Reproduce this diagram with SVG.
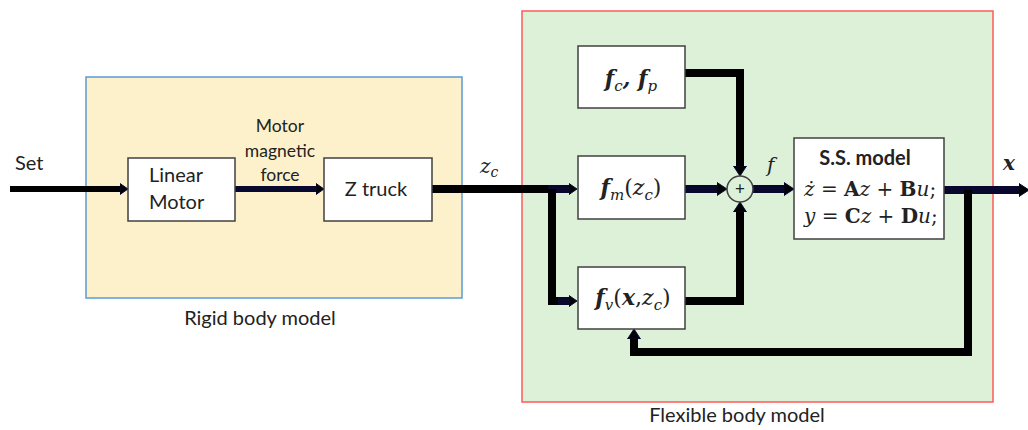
<svg xmlns="http://www.w3.org/2000/svg" width="1028" height="430" viewBox="0 0 1028 430">
<style>
.lbl{font-family:Lato,"Liberation Sans",sans-serif;fill:#222;}
.math{font-family:"DejaVu Serif","Liberation Serif",serif;fill:#222;}
.blk{fill:#fff;stroke:#404040;stroke-width:1.5;}
.wire{fill:none;stroke:#000;stroke-width:8;stroke-linejoin:miter;}
.wire6{fill:none;stroke:#000;stroke-width:6;}
.navy{stroke:#08082e;}
</style>
<defs>
<marker id="ah" viewBox="0 -8 12 16" markerWidth="12" markerHeight="16" refX="0" refY="0" orient="auto" markerUnits="userSpaceOnUse">
<path d="M0,-6.5 L10,0 L0,6.5 Z" fill="#000" stroke="#0a0a3a" stroke-width="1"/>
</marker>
<marker id="ahs" viewBox="0 -8 12 16" markerWidth="12" markerHeight="16" refX="0" refY="0" orient="auto" markerUnits="userSpaceOnUse">
<path d="M0,-5.5 L8,0 L0,5.5 Z" fill="#000" stroke="#0a0a3a" stroke-width="1"/>
</marker>
</defs>
<rect width="1028" height="430" fill="#fff"/>
<g id="rigid-group">
<rect x="86" y="77" width="376" height="221" fill="#fdf1cb" stroke="#5b9bd5" stroke-width="1.5"/>
<text class="lbl" x="260" y="325" font-size="20" text-anchor="middle">Rigid body model</text>
</g>
<g id="flex-group">
<rect x="522" y="11" width="471" height="391" fill="#ddf0d8" stroke="#ff5a5a" stroke-width="1.5"/>
<text class="lbl" x="737" y="422" font-size="20" text-anchor="middle">Flexible body model</text>
</g>
<g id="connectors">
<path class="wire6" d="M10,189 H120" marker-end="url(#ahs)"/>
<path class="wire6 navy" d="M235,189 H316" marker-end="url(#ahs)"/>
<path class="wire" d="M432,189 H548"/>
<path class="wire navy" d="M548,189 H569" stroke-width="6" marker-end="url(#ahs)"/>
<path class="wire" d="M552,189 V301 H560"/>
<path class="wire navy" d="M558,301 H569" stroke-width="6" marker-end="url(#ahs)"/>
<path class="wire" d="M685,73 H740 V166" marker-end="url(#ah)"/>
<path class="wire navy" d="M685,189 H717" marker-end="url(#ah)"/>
<path class="wire" d="M685,301 H740 V212" marker-end="url(#ah)"/>
<path class="wire navy" d="M753,189 H784" marker-end="url(#ah)"/>
<path class="wire navy" d="M944,190 H1019" marker-end="url(#ah)"/>
<path class="wire" d="M968,190 V352 H634 V339" marker-end="url(#ah)"/>
<circle cx="740" cy="189" r="13" fill="#ddf0d8" stroke="#404040" stroke-width="1.5"/>
<text class="lbl" x="740" y="195" font-size="17" text-anchor="middle">+</text>
</g>
<g id="set-label"><text class="lbl" x="15" y="170" font-size="20">Set</text></g>
<g id="linear-motor">
<rect class="blk" x="128" y="158" width="107" height="63"/>
<text class="lbl" x="149" y="182" font-size="20">Linear</text>
<text class="lbl" x="149" y="209" font-size="20">Motor</text>
</g>
<g id="force-label">
<text class="lbl" x="280" y="132" font-size="17.5" text-anchor="middle">Motor</text>
<text class="lbl" x="280" y="157" font-size="17.5" text-anchor="middle">magnetic</text>
<text class="lbl" x="280" y="181" font-size="17.5" text-anchor="middle">force</text>
</g>
<g id="z-truck">
<rect class="blk" x="324" y="158" width="108" height="63"/>
<text class="lbl" x="376" y="196" font-size="20" text-anchor="middle">Z truck</text>
</g>
<g id="zc-label"><text class="math" x="480" y="173" font-size="20" font-style="italic">z<tspan font-size="14" dy="4">c</tspan></text></g>
<g id="fcfp">
<rect class="blk" x="578" y="46" width="107" height="62"/>
<text class="math" x="631" y="86" font-size="22" font-style="italic" font-weight="bold" text-anchor="middle">f<tspan font-size="15" dy="5" font-weight="normal">c</tspan><tspan dy="-5">, f</tspan><tspan font-size="15" dy="5" font-weight="normal">p</tspan></text>
</g>
<g id="fm">
<rect class="blk" x="578" y="156" width="107" height="63"/>
<text class="math" x="631" y="195" font-size="22" text-anchor="middle"><tspan font-style="italic" font-weight="bold">f</tspan><tspan font-size="15" dy="5" font-style="italic">m</tspan><tspan dy="-5">(</tspan><tspan font-style="italic">z</tspan><tspan font-size="15" dy="5" font-style="italic">c</tspan><tspan dy="-5">)</tspan></text>
</g>
<g id="fv">
<rect class="blk" x="578" y="267" width="107" height="62"/>
<text class="math" x="633" y="305" font-size="22" text-anchor="middle"><tspan font-style="italic" font-weight="bold">f</tspan><tspan font-size="15" dy="5" font-style="italic">v</tspan><tspan dy="-5">(</tspan><tspan font-style="italic" font-weight="bold">x</tspan><tspan>,</tspan><tspan font-style="italic">z</tspan><tspan font-size="15" dy="5" font-style="italic">c</tspan><tspan dy="-5">)</tspan></text>
</g>
<g id="f-label"><text class="math" x="767" y="172" font-size="20" font-style="italic">f</text></g>
<g id="ss-model">
<rect class="blk" x="794" y="138" width="150" height="101"/>
<text class="lbl" x="865" y="165" font-size="20" font-weight="bold" text-anchor="middle">S.S. model</text>
<text class="math" x="804" y="196" font-size="20"><tspan font-style="italic">ż</tspan> = <tspan font-weight="bold">A</tspan><tspan font-style="italic">z</tspan> + <tspan font-weight="bold">B</tspan><tspan font-style="italic">u</tspan>;</text>
<text class="math" x="804" y="223" font-size="20"><tspan font-style="italic">y</tspan> = <tspan font-weight="bold">C</tspan><tspan font-style="italic">z</tspan> + <tspan font-weight="bold">D</tspan><tspan font-style="italic">u</tspan>;</text>
</g>
<g id="x-label"><text class="math" x="1003" y="170" font-size="20" font-style="italic" font-weight="bold">x</text></g>
</svg>
